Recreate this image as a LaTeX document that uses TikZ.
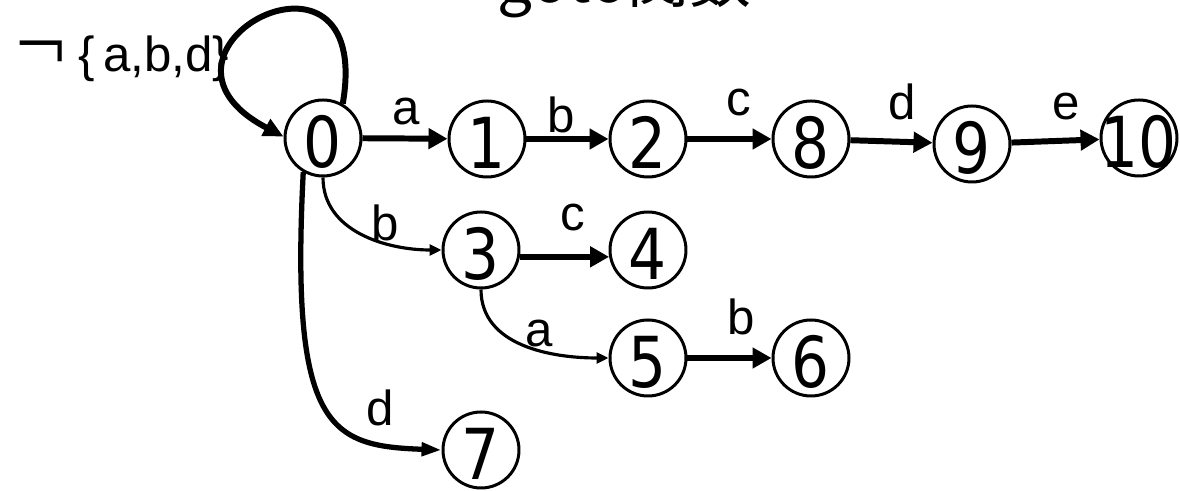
\documentclass[tikz,border=0pt]{standalone}
\usepackage{fontspec}
\setmainfont{Liberation Sans}
\newfontfamily\digitfont[FakeStretch=0.85]{DejaVu Sans}
\newfontfamily\jpfont{Noto Sans CJK JP}
\usepackage{graphicx}
\usetikzlibrary{arrows.meta}

\tikzset{
  state/.style={circle,draw,line width=0.85pt,minimum size=0.76cm,inner sep=0pt,
    text height=0.60cm,text depth=0pt,font=\digitfont\fontsize{20pt}{20pt}\selectfont},
  sym/.style={inner sep=0pt,font=\fontsize{14pt}{14pt}\selectfont},
  go/.style={line width=1.7pt,-{Triangle[length=0.19cm,width=0.2cm]}},
  gothin/.style={line width=0.9pt,-{Triangle[length=0.12cm,width=0.11cm]}},
}

\begin{document}
\begin{tikzpicture}[x=1cm,y=1cm]
                \useasboundingbox (0,0) rectangle (11.8,4.91);
                \node[font=\jpfont\fontsize{17.6pt}{18pt}\selectfont,anchor=base] (title) at (6.245,4.88) {goto関数};
                % states
                \node[state] (n0) at (3.23,3.53) {0};
                \node[state] (n1) at (4.87,3.52) {1};
                \node[state] (n2) at (6.48,3.52) {2};
                \node[state] (n8) at (8.11,3.52) {8};
                \node[state] (n9) at (9.72,3.47) {9};
                \node[state] (n10) at (11.39,3.53) {\makebox[0pt]{10}};
                \node[state] (n3) at (4.81,2.41) {3};
                \node[state] (n4) at (6.48,2.41) {4};
                \node[state] (n5) at (6.48,1.33) {5};
                \node[state] (n6) at (8.11,1.33) {6};
                \node[state] (n7) at (4.81,0.41) {7};
                % transitions
                \draw[go] (n0) -- (n1);
                \draw[go] (n1) -- (n2);
                \draw[go] (n2) -- (n8);
                \draw[go] (n8) -- (n9);
                \draw[go] (n9) -- (n10);
                \draw[go] (n3.-10) -- (n4.190);
                \draw[go] (n5) -- (n6);
                \draw[gothin] (n0.south) to [out=-90,in=180] (n3.west);
                \draw[gothin] (n3.south) to [out=-90,in=180] (n5.west);
                \draw[line width=1.5pt,-{Triangle[length=0.2cm,width=0.13cm]}]
                    (n0.240) .. controls (2.90,0.61) and (3.30,0.45) .. (n7.west);
                \draw[line width=1.7pt,-{Triangle[length=0.2cm,width=0.18cm]}]
                    (n0.60) .. controls (3.75,5.75) and (1.20,4.40) .. (n0.178);
                % labels
                \node[sym,anchor=base west] (notabd) at (0.13,4.19)
                    {\raisebox{-0.03cm}{\scalebox{1.15}[1.3]{\jpfont ￢}}\,\{\,a,b,d\}};
                \node[sym] (l01) at (4.06,3.79) {a};
                \node[sym] (l12) at (5.61,3.76) {b};
                \node[sym] (l28) at (7.39,3.88) {c};
                \node[sym] (l89) at (9.02,3.89) {d};
                \node[sym] (l910) at (10.66,3.84) {e};
                \node[sym] (l03) at (3.85,2.68) {b};
                \node[sym] (l34) at (5.73,2.73) {c};
                \node[sym] (l35) at (5.39,1.57) {a};
                \node[sym] (l56) at (7.41,1.74) {b};
                \node[sym] (l07) at (3.80,0.83) {d};
            \end{tikzpicture}
\end{document}
